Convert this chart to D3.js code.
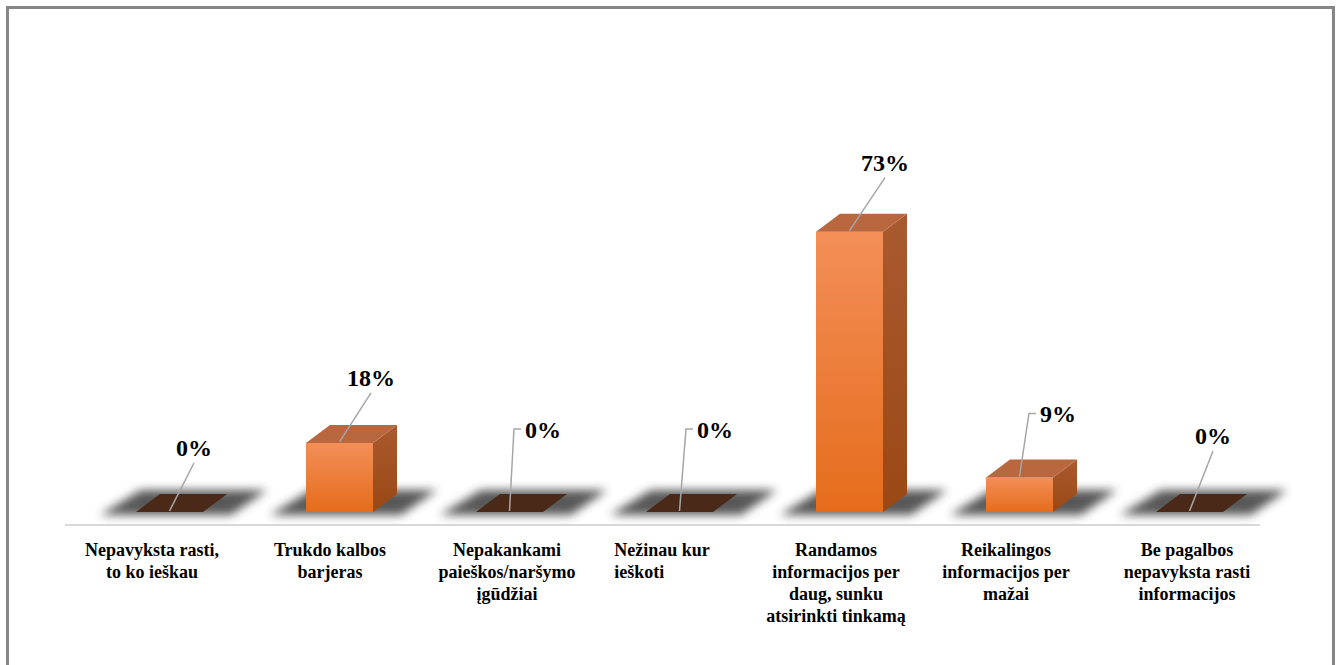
<!DOCTYPE html>
<html>
<head>
<meta charset="utf-8">
<script src="https://cdn.jsdelivr.net/npm/d3@7"></script>
<style>
  body { margin: 0; background: #fff; }
</style>
</head>
<body>
<div id="my_chart"></div>
<script>
// data
var categories = [
  "Nepavyksta rasti,\nto ko ieškau",
  "Trukdo kalbos\nbarjeras",
  "Nepakankami\npaieškos/naršymo\nįgūdžiai",
  "Nežinau kur\nieškoti",
  "Randamos\ninformacijos per\ndaug, sunku\natsirinkti tinkamą",
  "Reikalingos\ninformacijos per\nmažai",
  "Be pagalbos\nnepavyksta rasti\ninformacijos"
];
var values = [0, 18, 0, 0, 73, 9, 0];
var valueLabels = ["0%", "18%", "0%", "0%", "73%", "9%", "0%"];

// where each data label sits relative to the bar's top front edge
var labelPos = [
  {dx: 24, dy: -56, elbow: false},
  {dx: 31, dy: -57, elbow: false},
  {dx: 15, dy: -74, elbow: true},
  {dx: 17, dy: -74, elbow: true},
  {dx: 35, dy: -61, elbow: false},
  {dx: 20, dy: -55, elbow: true},
  {dx: 23, dy: -68, elbow: false}
];
// category label placement relative to the bar centre
var catDx = [-18, -10, -3, -18, -14, -14, -3];
var catLeftAligned = [false, false, false, true, false, false, false];

var FONT = "'Liberation Serif', 'Times New Roman', Times, serif";
var W = 1341, H = 665;
var svg = d3.select("#my_chart")
  .append("svg")
    .attr("width", W)
    .attr("height", H)
    .attr("font-family", FONT)
    .attr("font-weight", "bold");

var defs = svg.append("defs");
var gFront = defs.append("linearGradient").attr("id", "front").attr("x1", 0).attr("y1", 0).attr("x2", 0).attr("y2", 1);
gFront.append("stop").attr("offset", "0%").attr("stop-color", "#f38f58");
gFront.append("stop").attr("offset", "100%").attr("stop-color", "#e56c1b");
var gSide = defs.append("linearGradient").attr("id", "side").attr("x1", 0).attr("y1", 0).attr("x2", 0).attr("y2", 1);
gSide.append("stop").attr("offset", "0%").attr("stop-color", "#aa5a30");
gSide.append("stop").attr("offset", "100%").attr("stop-color", "#9a4814");
defs.append("filter").attr("id", "blur")
    .attr("x", "-50%").attr("y", "-100%").attr("width", "200%").attr("height", "300%")
  .append("feGaussianBlur").attr("stdDeviation", 5);

// outer frame
svg.append("rect")
  .attr("x", 7.5).attr("y", 7.5)
  .attr("width", 1326).attr("height", 700)
  .attr("fill", "none")
  .attr("stroke", "#868686")
  .attr("stroke-width", 3);

// scales
var x = d3.scaleBand()
  .domain(categories)
  .range([85, 1275]);
var y = d3.scaleLinear()
  .domain([0, 100])
  .range([512, 128]);

var barW = 67, ddx = 24, ddy = -18;

// axis line
svg.append("line")
  .attr("x1", 65).attr("x2", 1260)
  .attr("y1", 525).attr("y2", 525)
  .attr("stroke", "#d9d9d9")
  .attr("stroke-width", 2);

var bars = svg.selectAll(".bar")
  .data(values)
  .enter()
  .append("g")
    .attr("class", "bar")
    .attr("transform", function(d, i) { return "translate(" + (x(categories[i]) + x.bandwidth() / 2 - 34) + ",0)"; });

// floor shadow
bars.append("path")
  .attr("d", function() {
    var b = y(0) + 3;
    return "M-36," + b + "L" + (barW + 28) + "," + b + "L" + (barW + 64) + "," + (b + ddy - 7) + "L" + 5 + "," + (b + ddy - 7) + "Z";
  })
  .attr("fill", "#3a3a3a")
  .attr("opacity", 0.85)
  .attr("filter", "url(#blur)");

// front
bars.filter(function(d) { return d > 0; })
  .append("rect")
    .attr("x", 0)
    .attr("y", function(d) { return y(d); })
    .attr("width", barW)
    .attr("height", function(d) { return y(0) - y(d); })
    .attr("fill", "url(#front)");

// side
bars.filter(function(d) { return d > 0; })
  .append("path")
    .attr("d", function(d) {
      var t = y(d), b = y(0);
      return "M" + barW + "," + t + "L" + (barW + ddx) + "," + (t + ddy) + "L" + (barW + ddx) + "," + (b + ddy) + "L" + barW + "," + b + "Z";
    })
    .attr("fill", "url(#side)");

// top
bars.append("path")
  .attr("d", function(d) {
    var t = y(d);
    return "M0," + t + "L" + ddx + "," + (t + ddy) + "L" + (barW + ddx) + "," + (t + ddy) + "L" + barW + "," + t + "Z";
  })
  .attr("fill", function(d) { return d > 0 ? "#b9673f" : "#4a2919"; });

// data labels with leader lines
var lab = svg.selectAll(".vlab")
  .data(values)
  .enter()
  .append("g")
    .attr("class", "vlab");

lab.append("path")
  .attr("d", function(d, i) {
    var cx = x(categories[i]) + x.bandwidth() / 2, cy = y(d);
    var p = labelPos[i], tx = cx + p.dx, ty = cy + p.dy;
    if (p.elbow) {
      return "M" + (tx - 4) + "," + (ty - 9) + "L" + (tx - 11) + "," + (ty - 9) + "L" + (cx - 0.5) + "," + (cy - 1);
    }
    return "M" + tx + "," + (ty + 7) + "L" + (cx - 0.5) + "," + (cy - 1);
  })
  .attr("fill", "none")
  .attr("stroke", "#a6a6a6")
  .attr("stroke-width", 1.5);

lab.append("text")
  .attr("x", function(d, i) { return x(categories[i]) + x.bandwidth() / 2 + labelPos[i].dx; })
  .attr("y", function(d, i) { return y(d) + labelPos[i].dy; })
  .attr("text-anchor", function(d, i) { return labelPos[i].elbow ? "start" : "middle"; })
  .attr("font-size", 24)
  .attr("fill", "#000")
  .text(function(d, i) { return valueLabels[i]; });

// category labels
var cat = svg.selectAll(".cat")
  .data(categories)
  .enter()
  .append("text")
    .attr("class", "cat")
    .attr("text-anchor", "middle")
    .attr("font-size", 18)
    .attr("fill", "#000");

cat.selectAll("tspan")
  .data(function(d, i) { return d.split("\n").map(function(s) { return {s: s, c: d, i: i}; }); })
  .enter()
  .append("tspan")
    .attr("x", function(d) { return x(d.c) + x.bandwidth() / 2 + catDx[d.i]; })
    .attr("y", function(d, j) { return 556 + j * 22; })
    .text(function(d) { return d.s; });

// left-aligned label block (lines start under the first line's left edge)
cat.each(function(d, i) {
  if (!catLeftAligned[i]) return;
  var spans = d3.select(this).selectAll("tspan");
  var first = spans.node();
  var left = x(d) + x.bandwidth() / 2 + catDx[i] - first.getComputedTextLength() / 2;
  d3.select(this).attr("text-anchor", "start");
  spans.attr("x", left);
});
</script>
</body>
</html>
